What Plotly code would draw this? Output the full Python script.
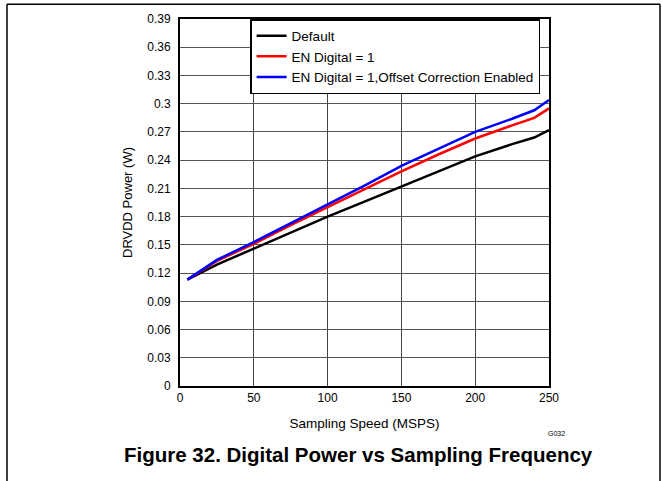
import plotly.graph_objects as go

speed = [5, 25, 50, 75, 100, 125, 150, 175, 200, 225, 240, 250]
default_pw = [0.113, 0.129, 0.146, 0.163, 0.180, 0.196, 0.212, 0.228, 0.244, 0.257, 0.264, 0.272]
en_digital = [0.113, 0.133, 0.151, 0.171, 0.190, 0.209, 0.228, 0.246, 0.263, 0.277, 0.285, 0.295]
en_offset = [0.113, 0.134, 0.153, 0.173, 0.193, 0.213, 0.234, 0.252, 0.270, 0.284, 0.293, 0.304]

y_ticks = [0, 0.03, 0.06, 0.09, 0.12, 0.15, 0.18, 0.21, 0.24, 0.27, 0.3, 0.33, 0.36, 0.39]
y_ticktext = ["0", "0.03", "0.06", "0.09", "0.12", "0.15", "0.18", "0.21", "0.24", "0.27", "0.3", "0.33", "0.36", "0.39"]
x_ticks = [0, 50, 100, 150, 200, 250]

series = [
    ("Default", default_pw, "#000000"),
    ("EN Digital = 1", en_digital, "#ff0000"),
    ("EN Digital = 1,Offset Correction Enabled", en_offset, "#0000ff"),
]

fig = go.Figure()
for name, vals, col in series:
    fig.add_trace(go.Scatter(x=speed, y=vals, mode="lines", name=name,
                             line=dict(color=col, width=2.5)))

font = "Liberation Sans, Arial, sans-serif"
fig.update_layout(
    width=662, height=481,
    margin=dict(l=180, r=113, t=16, b=95),
    paper_bgcolor="white", plot_bgcolor="white",
    font=dict(family=font, size=12, color="black"),
    showlegend=True,
    legend=dict(x=0.19, y=1.0, xanchor="left", yanchor="top",
                bgcolor="white", bordercolor="black", borderwidth=1.5,
                font=dict(size=13.5), itemwidth=30, tracegroupgap=0),
    xaxis=dict(range=[0, 250], tickvals=x_ticks, showgrid=True, gridcolor="#444",
               gridwidth=1, zeroline=False, showline=True, linecolor="black",
               linewidth=2, mirror=True, ticks="", ticklen=0,
               title=dict(text="Sampling Speed (MSPS)", standoff=14,
                          font=dict(size=13.5))),
    yaxis=dict(range=[0, 0.39], tickvals=y_ticks, ticktext=y_ticktext,
               showgrid=True, gridcolor="#555", gridwidth=1, zeroline=False,
               showline=True, linecolor="black", linewidth=2, mirror=True,
               ticks="", ticklabelstandoff=5,
               title=dict(text="DRVDD Power (W)", standoff=12,
                          font=dict(size=13))),
    annotations=[
        dict(text="G032", xref="paper", yref="paper", x=1.02, y=-0.13,
             showarrow=False, font=dict(size=7), xanchor="center", yanchor="middle"),
        dict(text="<b>Figure 32. Digital Power vs Sampling Frequency</b>",
             xref="paper", yref="paper", x=0.484, y=-0.187, showarrow=False,
             font=dict(size=20.5), xanchor="center", yanchor="middle"),
    ],
    shapes=[
        dict(type="line", xref="paper", yref="paper", x0=-0.4688, x1=-0.4688,
             y0=1.0405, y1=-0.27, line=dict(color="black", width=1.5)),
        dict(type="line", xref="paper", yref="paper", x0=1.3008, x1=1.3008,
             y0=1.0405, y1=-0.27, line=dict(color="black", width=1.5)),
        dict(type="line", xref="paper", yref="paper", x0=-0.4688, x1=1.3008,
             y0=1.0405, y1=1.0405, line=dict(color="black", width=1.5)),
    ],
)

fig.write_html("out.html", config={"displayModeBar": False},
               post_script="document.body.style.margin='0';")
